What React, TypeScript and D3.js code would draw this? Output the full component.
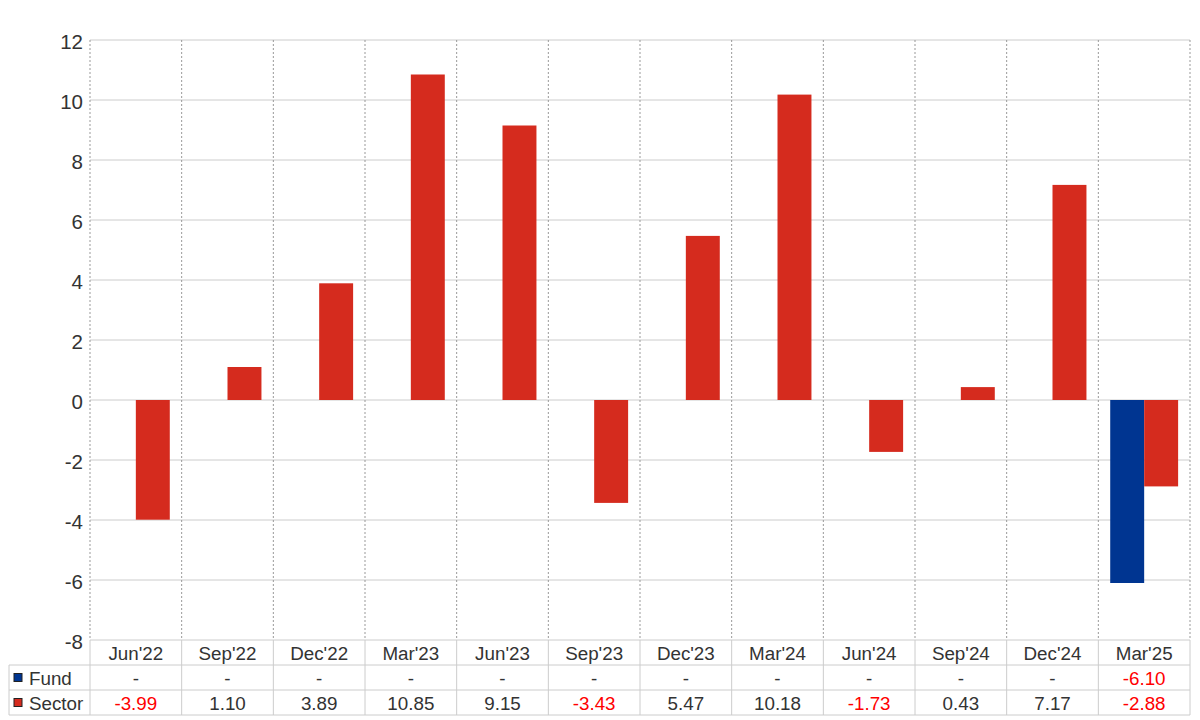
import React from "react";
import * as d3 from "d3";

const categories = ["Jun'22", "Sep'22", "Dec'22", "Mar'23", "Jun'23", "Sep'23", "Dec'23", "Mar'24", "Jun'24", "Sep'24", "Dec'24", "Mar'25"];
const fundValues: (number | null)[] = [null, null, null, null, null, null, null, null, null, null, null, -6.1];
const sectorValues: (number | null)[] = [-3.99, 1.1, 3.89, 10.85, 9.15, -3.43, 5.47, 10.18, -1.73, 0.43, 7.17, -2.88];
const yTicks = [-8, -6, -4, -2, 0, 2, 4, 6, 8, 10, 12];
const seriesNames = ["Fund", "Sector"];
const seriesColors = ["#003591", "#d52b1e"];

export default function App() {
  const W = 1200, H = 720;
  const left = 90, right = 1190, top = 40, bottom = 640;
  const rowH = 25;
  const tableLeft = 9;
  const x = d3.scaleBand<string>().domain(categories).range([left, right]).paddingInner(0).paddingOuter(0);
  const xs = d3.scaleBand<string>().domain(seriesNames).range([0, x.bandwidth()]).paddingInner(0).paddingOuter(0.35);
  const y = d3.scaleLinear().domain([-8, 12]).range([bottom, top]);
  const series = [fundValues, sectorValues];
  const font = "'Liberation Sans', Arial, sans-serif";
  const fs = 18.8;

  return (
    <svg width={W} height={H} style={{ position: "absolute", left: 0, top: 0, background: "#fff" }} fontFamily={font}>
      {yTicks.map((t) => (
        <line key={"g" + t} x1={left} x2={right} y1={y(t)} y2={y(t)} stroke="#cccccc" strokeWidth={1} />
      ))}
      {categories.map((c) => (
        <line key={"v" + c} x1={x(c)!} x2={x(c)!} y1={top} y2={bottom} stroke="#999" strokeDasharray="2,2" strokeWidth={1} />
      ))}
      <line x1={right} x2={right} y1={top} y2={bottom} stroke="#999" strokeDasharray="2,2" strokeWidth={1} />
      {yTicks.map((t) => (
        <text key={"yl" + t} x={83} y={y(t) + 2} dy="0.36em" textAnchor="end" fontSize={20.5} fill="#333">{t}</text>
      ))}
      {series.map((vals, si) =>
        vals.map((v, i) =>
          v === null ? null : (
            <rect key={"b" + si + "-" + i}
              x={x(categories[i])! + xs(seriesNames[si])!}
              width={xs.bandwidth()}
              y={y(Math.max(0, v))}
              height={Math.abs(y(v) - y(0))}
              fill={seriesColors[si]} />
          )
        )
      )}
      {[1, 2, 3].map((r) => (
        <line key={"tr" + r} x1={tableLeft} x2={right} y1={bottom + r * rowH} y2={bottom + r * rowH} stroke="#cccccc" />
      ))}
      <line x1={tableLeft} x2={tableLeft} y1={bottom + rowH} y2={bottom + 3 * rowH} stroke="#cccccc" />
      {categories.map((c) => (
        <line key={"tv" + c} x1={x(c)!} x2={x(c)!} y1={bottom} y2={bottom + 3 * rowH} stroke="#cccccc" />
      ))}
      <line x1={right} x2={right} y1={bottom} y2={bottom + 3 * rowH} stroke="#cccccc" />
      {categories.map((c) => (
        <text key={"h" + c} x={x(c)! + x.bandwidth() / 2} y={bottom + rowH / 2 + 1} dy="0.36em" textAnchor="middle" fontSize={fs} fill="#333">{c}</text>
      ))}
      {series.map((vals, si) => (
        <g key={"row" + si}>
          <rect x={14} y={bottom + (si + 1) * rowH + rowH / 2 - 4} width={8} height={8} fill={seriesColors[si]} stroke="#222" strokeWidth={1} />
          <text x={29} y={bottom + (si + 1) * rowH + rowH / 2 + 1} dy="0.36em" fontSize={fs} fill="#333">{seriesNames[si]}</text>
          {vals.map((v, i) => (
            <text key={"c" + si + "-" + i} x={x(categories[i])! + x.bandwidth() / 2} y={bottom + (si + 1) * rowH + rowH / 2 + 1} dy="0.36em" textAnchor="middle" fontSize={fs}
              fill={v !== null && v < 0 ? "#ff0000" : "#333"}>
              {v === null ? "-" : v.toFixed(2)}
            </text>
          ))}
        </g>
      ))}
    </svg>
  );
}
